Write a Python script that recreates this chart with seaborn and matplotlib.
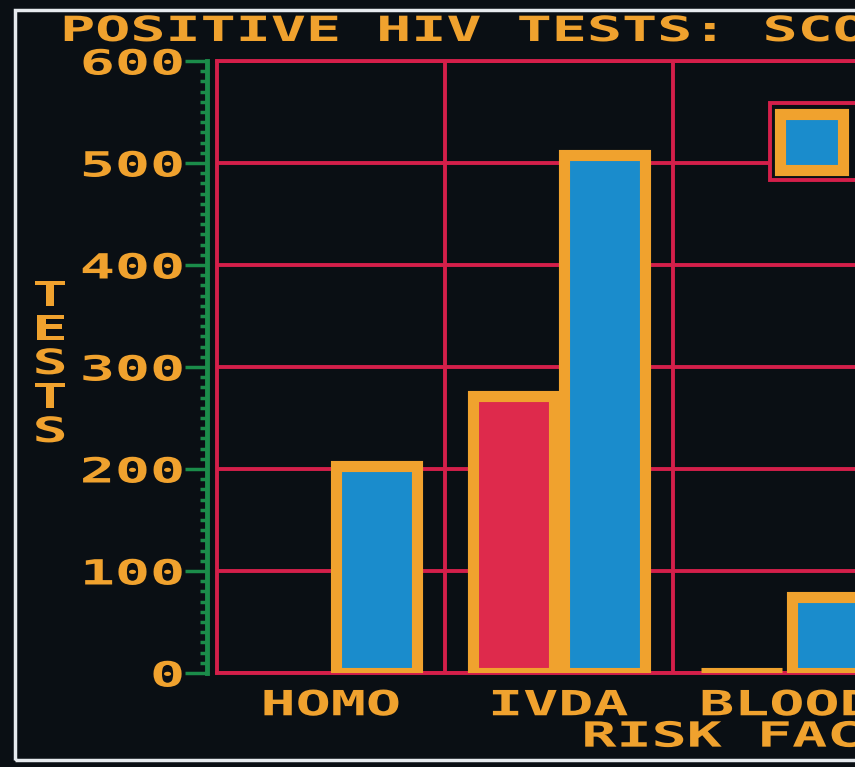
import numpy as np
import pandas as pd
import matplotlib
matplotlib.use("Agg")
import matplotlib.pyplot as plt
import matplotlib.patches as mpatches
from matplotlib.patheffects import AbstractPathEffect
from matplotlib.transforms import Affine2D
from matplotlib.ticker import MultipleLocator
import seaborn as sns

risk_factors = ["HOMO", "IVDA", "BLOOD"]
sexes = ["FEMALE", "MALE"]
female_tests = [np.nan, 272, 0]
male_tests = [203, 508, 75]
y_ticks = [0, 100, 200, 300, 400, 500, 600]

BG = "#0a0f14"
ORANGE = "#f0a22e"
RED = "#d41f4a"
BAR_RED = "#de2a4c"
BLUE = "#1a8ccc"
GREEN = "#1b8c4a"
WHITE = "#e6eaee"


class Stretch(AbstractPathEffect):
    # widen the glyphs sideways, the old screen font is squat and wide
    def __init__(self, sx=1.68, anchor="center"):
        super().__init__()
        self.sx = sx
        self.anchor = anchor

    def draw_path(self, renderer, gc, tpath, affine, rgbFace=None):
        ext = tpath.get_extents()
        x0 = {"left": ext.x0, "right": ext.x1}.get(self.anchor, (ext.x0 + ext.x1) / 2)
        wide = Affine2D().translate(-x0, 0).scale(self.sx, 1).translate(x0, 0)
        renderer.draw_path(gc, tpath, wide + affine, rgbFace)


df = pd.DataFrame({
    "risk": risk_factors * 2,
    "sex": ["FEMALE"] * 3 + ["MALE"] * 3,
    "tests": female_tests + male_tests,
}).dropna()

sns.set_style("ticks", rc={"axes.facecolor": BG, "figure.facecolor": BG})
plt.rcParams["font.family"] = ["DejaVu Sans Mono", "DejaVu Sans"]
plt.rcParams["font.weight"] = "bold"
plt.rcParams["axes.labelweight"] = "bold"
plt.rcParams["font.size"] = 25

fig = plt.figure(figsize=(8.55, 7.67), dpi=100, facecolor=BG)
ax = fig.add_axes([217 / 855, 94 / 767, 684 / 855, 612 / 767])

sns.barplot(data=df, x="risk", y="tests", hue="sex", order=risk_factors,
            hue_order=sexes, palette=[BAR_RED, BLUE], saturation=1, gap=0.12,
            edgecolor=ORANGE, linewidth=8, errorbar=None, legend=False,
            zorder=3, ax=ax)

ax.set_xlim(-0.5, 2.5)
ax.set_ylim(0, 600)
ax.set_yticks(y_ticks)
ax.yaxis.set_minor_locator(MultipleLocator(10))
ax.set_xticks([0.5, 1.5], minor=True)

# red screen grid
ax.grid(False)
ax.xaxis.grid(True, which="minor", color=RED, lw=2.8)
ax.yaxis.grid(True, which="major", color=RED, lw=2.8)
for side in ["top", "bottom", "right"]:
    ax.spines[side].set_color(RED)
    ax.spines[side].set_linewidth(2.8)
ax.axvline(-0.5, color=RED, lw=2.8, clip_on=False, zorder=2.5)

# green value axis sits a little left of the grid
ax.spines["left"].set_position(("outward", 7))
ax.spines["left"].set_color(GREEN)
ax.spines["left"].set_linewidth(3.5)
ax.tick_params(axis="y", which="major", length=16, width=2.5, color=GREEN,
               pad=1, labelcolor=ORANGE)
ax.tick_params(axis="y", which="minor", length=5, width=2.5, color=GREEN)
ax.tick_params(axis="x", which="both", length=0, pad=11, labelcolor=ORANGE)

ax.set_ylabel("T\nE\nS\nT\nS", rotation=0, linespacing=1.0, ha="center",
              va="center", color=ORANGE)
ax.yaxis.set_label_coords(-0.244, 0.505)
ax.set_xlabel("RISK FACTOR", ha="left", va="center", color=ORANGE)
ax.xaxis.set_label_coords(0.535, -0.104)

# key box in the corner: only the swatch is on screen, its text is off the edge
handles = [
    mpatches.Patch(facecolor=BLUE, edgecolor=ORANGE, linewidth=8),
    mpatches.Patch(facecolor=BAR_RED, edgecolor=ORANGE, linewidth=8),
]
leg = ax.legend(handles=handles, labels=["", ""], loc="upper left",
                bbox_to_anchor=(0.808, 0.931), ncol=2, borderaxespad=0,
                borderpad=0.3, handlelength=1.8, handleheight=2.1,
                handletextpad=0.6, columnspacing=1.0, frameon=True,
                fancybox=False, facecolor=BG, edgecolor=RED, framealpha=1)
leg.get_frame().set_linewidth(2.8)

fig.text(62 / 855, 1 - 31 / 767, "POSITIVE HIV TESTS: SCOTLAND", ha="left",
         va="center", color=ORANGE, path_effects=[Stretch(anchor="left")])

# monitor edge
fig.add_artist(mpatches.Rectangle((15 / 855, 7 / 767), 2, 750 / 767,
                                  transform=fig.transFigure, fill=False,
                                  edgecolor=WHITE, lw=2.5))

for t in ax.get_yticklabels():
    t.set_path_effects([Stretch(anchor="right")])
for t in ax.get_xticklabels() + [ax.yaxis.label]:
    t.set_path_effects([Stretch()])
ax.xaxis.label.set_path_effects([Stretch(anchor="left")])

fig.savefig("out.png", dpi=100, facecolor=BG)
